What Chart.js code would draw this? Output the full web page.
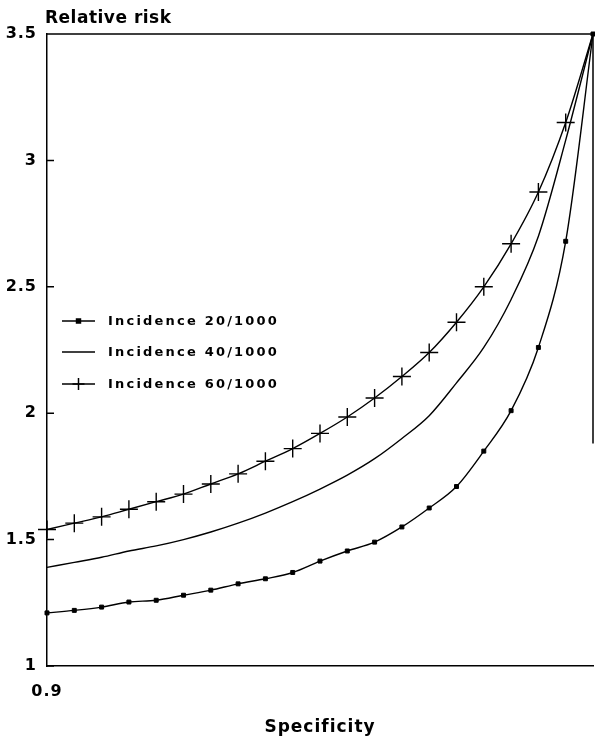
<!DOCTYPE html>
<html>
<head>
<meta charset="utf-8">
<title>Relative risk by specificity</title>
<script src="https://cdn.jsdelivr.net/npm/chart.js@4.4.0/dist/chart.umd.min.js"></script>
<style>
    html, body { margin: 0; padding: 0; background: #fff; }
    #wrap { width: 595px; height: 740px; position: relative; }
</style>
</head>
<body>
<div id="wrap"><canvas id="rrChart"></canvas></div>
<script>
// --- Data ---
const specificity = [0.900, 0.905, 0.910, 0.915, 0.920, 0.925, 0.930, 0.935, 0.940, 0.945, 0.950,
                     0.955, 0.960, 0.965, 0.970, 0.975, 0.980, 0.985, 0.990, 0.995, 1.000];
const incidence20 = [1.21, 1.22, 1.233, 1.253, 1.26, 1.28, 1.30, 1.325, 1.345, 1.37, 1.415,
                     1.455, 1.49, 1.55, 1.625, 1.71, 1.85, 2.01, 2.26, 2.68, 3.5];
const incidence40 = [1.39, 1.41, 1.43, 1.455, 1.475, 1.50, 1.53, 1.565, 1.605, 1.65, 1.70,
                     1.755, 1.82, 1.90, 1.99, 2.12, 2.26, 2.45, 2.70, 3.08, 3.5];
const incidence60 = [1.54, 1.565, 1.59, 1.62, 1.65, 1.68, 1.72, 1.76, 1.81, 1.86, 1.92,
                     1.985, 2.06, 2.145, 2.24, 2.36, 2.50, 2.67, 2.875, 3.15, 3.5];
const seriesLabels = ['Incidence 20/1000', 'Incidence 40/1000', 'Incidence 60/1000'];
const xTickLabels = ['0.9'];
const yTickStep = 0.5;

const FONT = '"DejaVu Sans", sans-serif';
Chart.defaults.font.family = FONT;
Chart.defaults.color = '#000';

const toPoints = vals => vals.map((v, i) => ({ x: specificity[i], y: v }));

// --- Plugins ---

// frame top/right edge, inward y ticks, y title and the in-plot legend
const framePlugin = {
    id: 'frame',
    beforeDraw(chart) {
        chart.ctx.letterSpacing = '1px';
    },
    afterDraw(chart) {
        const { ctx, chartArea: a, scales: { y } } = chart;
        ctx.save();
        ctx.strokeStyle = '#000';
        ctx.lineWidth = 1.5;

        ctx.beginPath();
        ctx.moveTo(a.left, a.top);
        ctx.lineTo(a.right, a.top);
        // only the upper part of the right edge shows in the print
        ctx.moveTo(a.right, a.top);
        ctx.lineTo(a.right, y.getPixelForValue(1.88));
        y.ticks.forEach(t => {
            const py = y.getPixelForValue(t.value);
            ctx.moveTo(a.left, py);
            ctx.lineTo(a.left + 7, py);
        });
        ctx.stroke();

        ctx.fillStyle = '#000';
        ctx.letterSpacing = '0.5px';
        ctx.font = 'bold 17px ' + FONT;
        ctx.textBaseline = 'alphabetic';
        ctx.textAlign = 'left';
        ctx.fillText('Relative risk', 45, 23);

        // legend
        const lx = 62, lw = 33, tx = 108;
        const rows = [321, 352, 384];
        ctx.font = 'bold 13px ' + FONT;
        ctx.letterSpacing = '2.2px';
        ctx.textBaseline = 'middle';
        chart.data.datasets.forEach((ds, i) => {
            const ly = rows[i];
            ctx.lineWidth = 1.5;
            ctx.strokeStyle = '#000';
            ctx.beginPath();
            ctx.moveTo(lx, ly);
            ctx.lineTo(lx + lw, ly);
            ctx.stroke();
            if (ds.legendMarker) {
                ctx.fillStyle = '#000';
                Chart.helpers.drawPoint(ctx, {
                    pointStyle: ds.pointStyle,
                    radius: ds.legendMarker,
                    borderWidth: 1.2,
                    rotation: 0
                }, lx + lw / 2, ly);
            }
            ctx.fillStyle = '#000';
            ctx.fillText(ds.label, tx, ly + 1);
        });
        ctx.restore();
    }
};

// --- Chart ---

const ctx = document.getElementById('rrChart').getContext('2d');
new Chart(ctx, {
    type: 'line',
    data: {
        datasets: [
            {
                label: seriesLabels[0],
                data: toPoints(incidence20),
                borderColor: '#000',
                borderWidth: 1.4,
                pointStyle: 'rect',
                pointRadius: 2.8,
                pointBackgroundColor: '#000',
                pointBorderColor: '#000',
                pointBorderWidth: 1,
                legendMarker: 2.8,
                cubicInterpolationMode: 'monotone',
                clip: false
            },
            {
                label: seriesLabels[1],
                data: toPoints(incidence40),
                borderColor: '#000',
                borderWidth: 1.4,
                pointRadius: 0,
                cubicInterpolationMode: 'monotone',
                clip: false
            },
            {
                label: seriesLabels[2],
                data: toPoints(incidence60),
                borderColor: '#000',
                borderWidth: 1.4,
                pointStyle: 'cross',
                pointRadius: c => (c.dataIndex === incidence60.length - 1 ? 2 : 9),
                pointBorderColor: '#000',
                pointBorderWidth: 1.4,
                legendMarker: 6,
                cubicInterpolationMode: 'monotone',
                clip: false
            }
        ]
    },
    options: {
        responsive: true,
        maintainAspectRatio: false,
        animation: false,
        layout: { autoPadding: false, padding: { top: 34, right: 2, left: 0, bottom: 0 } },
        plugins: {
            legend: { display: false },
            tooltip: { enabled: false }
        },
        scales: {
            x: {
                type: 'linear',
                min: 0.9,
                max: 1.0,
                // grid hidden, tickLength only used to push the label down
                grid: { display: false, drawTicks: true, tickLength: 16 },
                border: { display: true, color: '#000', width: 1.5 },
                ticks: {
                    stepSize: 0.1,
                    padding: 0,
                    maxRotation: 0,
                    font: { size: 16, weight: 'bold' },
                    callback: v => (xTickLabels.includes(v.toFixed(1)) ? v.toFixed(1) : '')
                },
                title: {
                    display: true,
                    text: 'Specificity',
                    font: { size: 17, weight: 'bold' },
                    padding: { top: 0, bottom: 2 }
                },
                afterFit: s => { s.height = 74; }
            },
            y: {
                min: 1,
                max: 3.5,
                grid: { display: false, drawTicks: false },
                border: { display: true, color: '#000', width: 1.5 },
                ticks: {
                    stepSize: yTickStep,
                    padding: 10,
                    font: { size: 16, weight: 'bold' },
                    callback: v => String(v)
                },
                afterFit: s => { s.width = 47; }
            }
        }
    },
    plugins: [framePlugin]
});
</script>
</body>
</html>
